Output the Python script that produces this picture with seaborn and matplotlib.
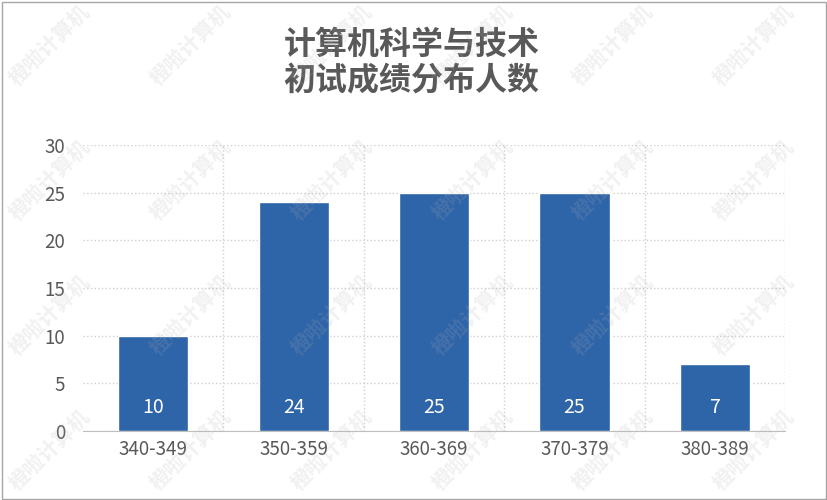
import numpy as np
import pandas as pd
import seaborn as sns
import matplotlib.pyplot as plt
from matplotlib.ticker import MultipleLocator

sns.set_style('white')
plt.rcParams['font.family'] = ['Noto Sans CJK SC', 'DejaVu Sans']

score_ranges = ['340-349', '350-359', '360-369', '370-379', '380-389']
counts = [10, 24, 25, 25, 7]
title_lines = ['计算机科学与技术', '初试成绩分布人数']
watermark = '橙啦计算机'

df = pd.DataFrame({'range': score_ranges, 'count': counts})

fig = plt.figure(figsize=(8.28, 5.0), dpi=100)
ax = fig.add_axes([0.1002, 0.138, 0.848, 0.572])

sns.barplot(data=df, x='range', y='count', color='#2E64A8', saturation=1,
            width=0.5, ax=ax, zorder=3)

ax.set_xlim(-0.5, len(score_ranges) - 0.5)
ax.set_ylim(0, 30)
ax.yaxis.set_major_locator(MultipleLocator(5))
ax.set_xticks(np.arange(len(score_ranges)) + 0.5, minor=True)
ax.grid(axis='y', which='major', color='#d0d0d0', linestyle=':', linewidth=1)
ax.grid(axis='x', which='minor', color='#d0d0d0', linestyle=':', linewidth=1)
ax.set_axisbelow(True)
for s in ['top', 'right', 'left']:
    ax.spines[s].set_visible(False)
ax.spines['bottom'].set_color('#bfbfbf')
ax.set_xlabel('')
ax.set_ylabel('')
ax.tick_params(axis='both', which='both', length=0, labelsize=13.5,
               labelcolor='#595959')
ax.tick_params(axis='x', pad=6)
ax.tick_params(axis='y', pad=13)

for i, v in enumerate(counts):
    ax.text(i, 2.5, str(v), ha='center', va='center', color='white',
            fontsize=14, zorder=5)

fig.text(0.497, 0.91, title_lines[0], ha='center', va='center',
         fontsize=23, fontweight='bold', color='#595959')
fig.text(0.497, 0.838, title_lines[1], ha='center', va='center',
         fontsize=23, fontweight='bold', color='#595959')

# watermark
for wx in np.arange(0.06, 0.96, 0.17):
    for wy in np.arange(0.1, 0.95, 0.27):
        fig.text(wx, wy, watermark, rotation=45, ha='center', va='center',
                 fontsize=15, fontweight='bold', color='#b0b0b0', alpha=0.18,
                 zorder=10)

fig.patches.append(plt.Rectangle((0.002, 0.003), 0.996, 0.994,
                                 transform=fig.transFigure, fill=False,
                                 edgecolor='#a6a6a6', linewidth=1))

fig.savefig('out.png', dpi=100)
